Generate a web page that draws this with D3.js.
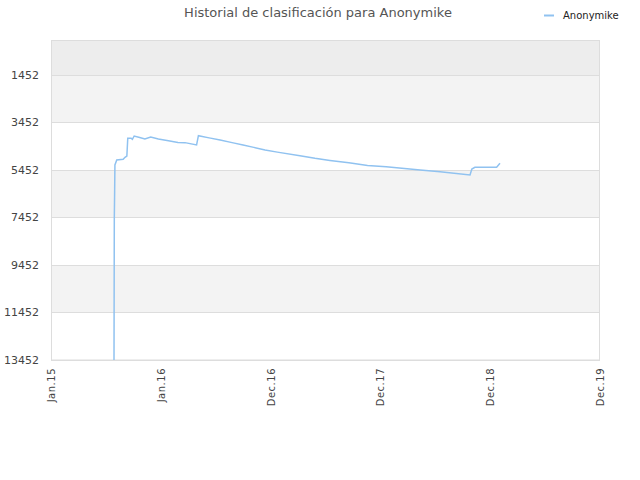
<!DOCTYPE html>
<html><head><meta charset="utf-8">
<script src="https://cdn.jsdelivr.net/npm/d3@7"></script>
<style>body{margin:0;background:#fff}</style>
</head><body>
<svg id="c" width="640" height="480"></svg>
<script>
const title = "Historial de clasificación para Anonymike";
const seriesName = "Anonymike";
const yTicks = [1452, 3452, 5452, 7452, 9452, 11452, 13452];
const xTickLabels = ["Jan.15", "Jan.16", "Dec.16", "Dec.17", "Dec.18", "Dec.19"];
const dates = ["2015-07-26","2015-07-27","2015-07-28","2015-07-29","2015-08-04","2015-08-25","2015-08-31","2015-09-06","2015-09-09","2015-09-20","2015-09-24","2015-09-30","2015-10-15","2015-11-04","2015-11-23","2015-12-18","2016-01-20","2016-02-20","2016-03-14","2016-04-21","2016-04-27","2016-06-01","2016-07-07","2016-08-15","2016-09-20","2016-10-25","2016-12-01","2017-01-10","2017-03-25","2017-05-13","2017-07-01","2017-09-01","2017-11-01","2018-01-01","2018-04-22","2018-06-26","2018-10-02","2018-10-08","2018-10-18","2018-12-28","2019-01-08"];
const ranks = [13452,7473,6462,5241,5031,5001,4917,4863,4117,4117,4159,4021,4070,4147,4063,4147,4220,4290,4300,4399,4008,4100,4189,4300,4400,4500,4610,4700,4850,4959,5050,5150,5260,5320,5452,5524,5662,5410,5338,5338,5170];

const svg = d3.select("#c");
const L = 51, R = 600, T = 40.5, B = 360;
const parse = d3.timeParse("%Y-%m-%d");
const d0 = parse("2015-01-01"), d1 = parse("2019-12-01");
const x = d3.scaleTime().domain([d0, d1]).range([L, R]);
const y = d3.scaleLinear().domain([0, 13452]).range([T, B]);
const font = "DejaVu Sans, Verdana, sans-serif";

// bands
const bandEdges = [0].concat(yTicks);
for (let i = 0; i < bandEdges.length - 1; i++) {
  const fill = i === 0 ? "#ededed" : (i % 2 === 1 ? "#f3f3f3" : "#ffffff");
  svg.append("rect").attr("x", L).attr("width", R - L)
    .attr("y", y(bandEdges[i])).attr("height", y(bandEdges[i+1]) - y(bandEdges[i]))
    .attr("fill", fill);
}
// gridlines
svg.append("g").selectAll("line").data(yTicks).join("line")
  .attr("x1", L).attr("x2", R).attr("y1", d => Math.round(y(d)) + 0.5).attr("y2", d => Math.round(y(d)) + 0.5)
  .attr("stroke", "#dddddd");
// border
svg.append("rect").attr("x", L + 0.5).attr("y", T).attr("width", R - L - 1).attr("height", B - T)
  .attr("fill", "none").attr("stroke", "#dddddd");

// y labels
svg.append("g").selectAll("text").data(yTicks).join("text")
  .attr("x", 39).attr("y", d => y(d) + 4).attr("text-anchor", "end")
  .attr("font-family", font).attr("font-size", 11).attr("fill", "#444")
  .text(d => d);

// x labels
const tickDates = xTickLabels.map((_, i) => new Date(d0.getTime() + (d1 - d0) * i / (xTickLabels.length - 1)));
svg.append("g").selectAll("text").data(tickDates).join("text")
  .attr("transform", d => `translate(${x(d) + 4},368) rotate(-90)`)
  .attr("text-anchor", "end")
  .attr("font-family", font).attr("font-size", 10).attr("fill", "#444")
  .attr("letter-spacing", 0.5)
  .text((d, i) => xTickLabels[i]);

// line
const data = dates.map((d, i) => ({ date: parse(d), rank: ranks[i] }));
const line = d3.line().x(d => x(d.date)).y(d => y(d.rank)).curve(d3.curveLinear);
svg.append("path").datum(data).attr("d", line)
  .attr("fill", "none").attr("stroke", "#90c2f0").attr("stroke-width", 1.5);

// title
svg.append("text").attr("x", 318).attr("y", 17).attr("text-anchor", "middle")
  .attr("font-family", font).attr("font-size", 13).attr("fill", "#555").text(title);

// legend
svg.append("line").attr("x1", 544).attr("x2", 554).attr("y1", 15.5).attr("y2", 15.5)
  .attr("stroke", "#90c2f0").attr("stroke-width", 2);
svg.append("text").attr("x", 563).attr("y", 18.5)
  .attr("font-family", font).attr("font-size", 10).attr("fill", "#222").text(seriesName);
</script>
</body></html>
